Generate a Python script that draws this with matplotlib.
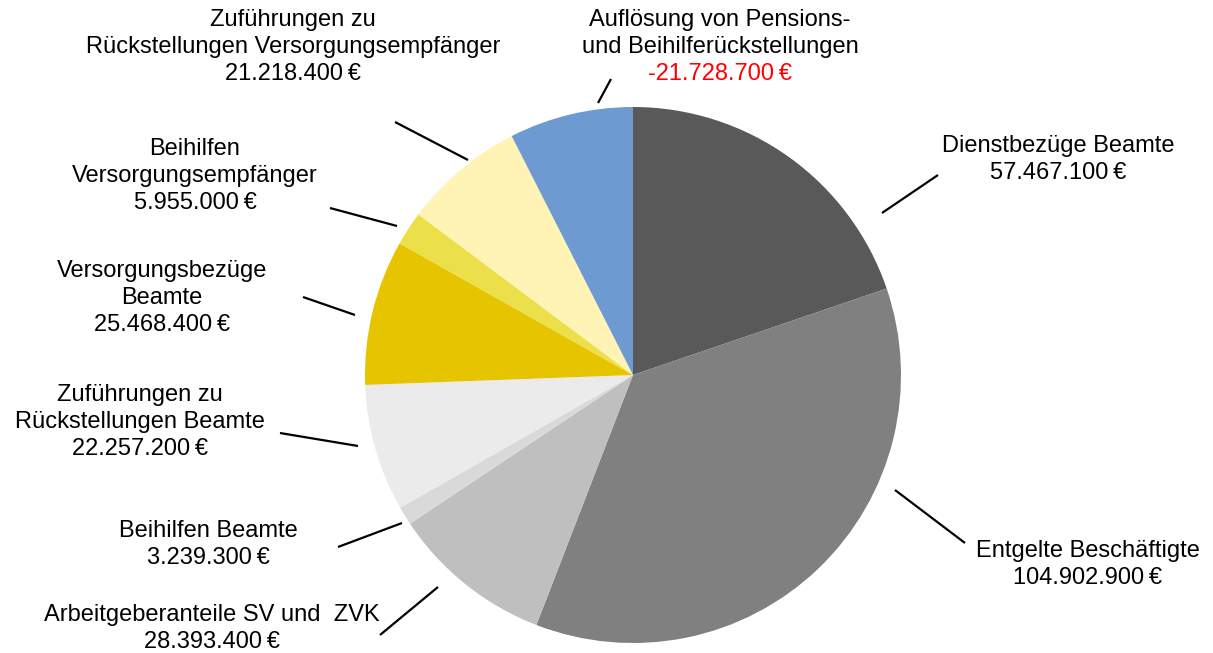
import matplotlib
matplotlib.use("Agg")
import matplotlib.pyplot as plt

plt.rcParams['font.family'] = ['Liberation Sans', 'DejaVu Sans']

labels = [
    "Dienstbezüge Beamte",
    "Entgelte Beschäftigte",
    "Arbeitgeberanteile SV und  ZVK",
    "Beihilfen Beamte",
    "Zuführungen zu\nRückstellungen Beamte",
    "Versorgungsbezüge\nBeamte",
    "Beihilfen\nVersorgungsempfänger",
    "Zuführungen zu\nRückstellungen Versorgungsempfänger",
    "Auflösung von Pensions-\nund Beihilferückstellungen",
]
values = [57467100, 104902900, 28393400, 3239300, 22257200,
          25468400, 5955000, 21218400, -21728700]
colors = ["#595959", "#808080", "#BFBFBF", "#D9D9D9", "#EBEBEB",
          "#E6C400", "#EBE04A", "#FFF3B5", "#6D9BD1"]

W, H = 1213, 653
fig = plt.figure(figsize=(W / 100, H / 100), dpi=100)
cx, cy, r = 633, 375, 268
ax = fig.add_axes([(cx - r) / W, (H - cy - r) / H, 2 * r / W, 2 * r / H])
ax.pie([abs(v) for v in values], colors=colors, startangle=90,
       counterclock=False, radius=1,
       wedgeprops=dict(linewidth=0))
ax.set_xlim(-1, 1)
ax.set_ylim(-1, 1)
ax.set_aspect('equal')
ax.axis('off')


def fmt(v):
    s = f"{abs(v):,}".replace(",", ".")
    return ("-" if v < 0 else "") + s + "\u2009€"


def d(px, py):
    return ((px - cx) / r, (cy - py) / r)


layout = [
    (1058, 146, (938, 175), (882, 213)),
    (1088, 551, (965, 543), (895, 490)),
    (212, 615, (380, 635), (438, 587)),
    (208, 531, (338, 547), (402, 523)),
    (140, 395, (280, 433), (358, 446)),
    (162, 271, (303, 297), (355, 315)),
    (195, 149, (330, 208), (397, 226)),
    (293, 20, (395, 122), (468, 160)),
    (720, 20, (611, 79), (598, 103)),
]

lh = 27
for lab, v, (tx, ty, p0, p1) in zip(labels, values, layout):
    lines = lab.split("\n")
    for i, ln in enumerate(lines):
        x, y = d(tx, ty + i * lh)
        ax.text(x, y, ln, ha='center', va='center', fontsize=17,
                color='#000000', clip_on=False)
    x, y = d(tx, ty + len(lines) * lh)
    ax.text(x, y, fmt(v), ha='center', va='center', fontsize=17,
            color='#FF0000' if v < 0 else '#000000', clip_on=False)
    a, b = d(*p0)
    c, e = d(*p1)
    ax.plot([a, c], [b, e], color='black', lw=1.6, clip_on=False,
            solid_capstyle='butt')

fig.savefig("out.png", dpi=100)
